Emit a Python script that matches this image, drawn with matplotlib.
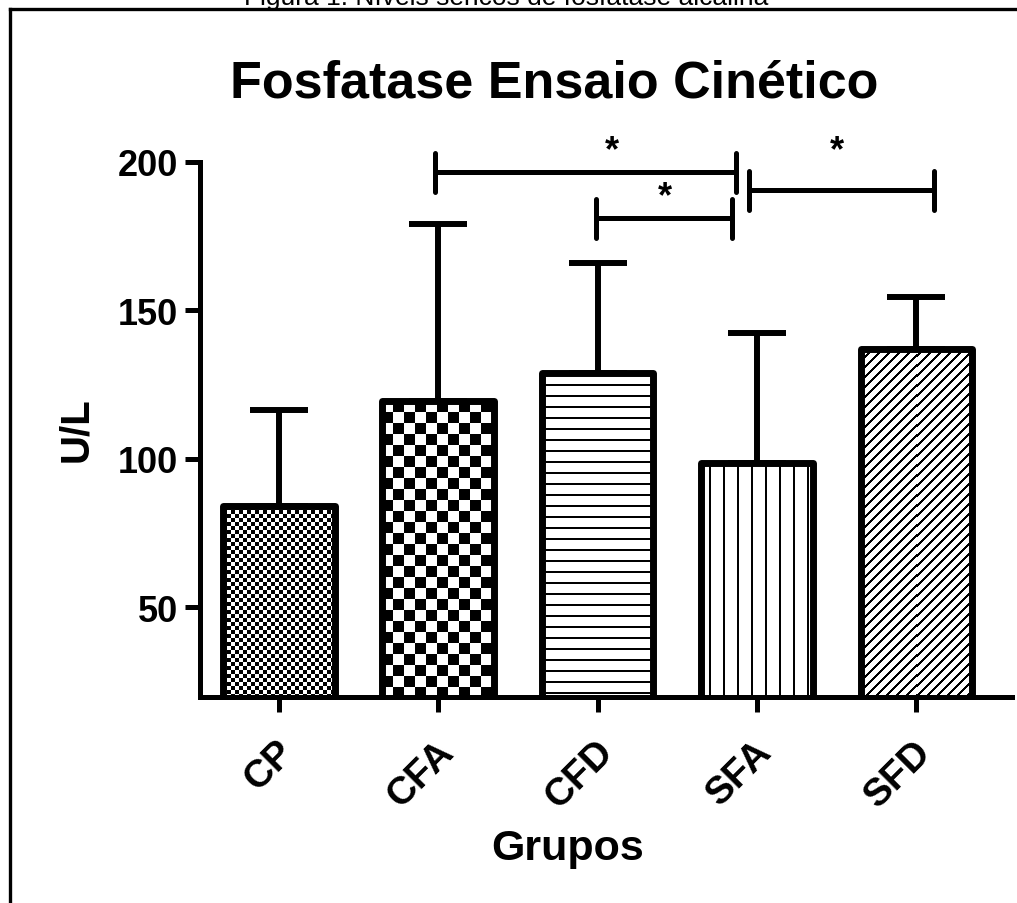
import numpy as np
import matplotlib
matplotlib.use("Agg")
import matplotlib.pyplot as plt
from matplotlib.lines import Line2D
from matplotlib.transforms import ScaledTranslation

# ---------------- data ----------------
groups = ["CP", "CFA", "CFD", "SFA", "SFD"]
means = [84.0, 119.5, 129.0, 98.5, 137.0]
err_upper = [32.5, 59.5, 37.0, 44.0, 17.5]
yticks = [50, 100, 150, 200]
# significance brackets: (x start, x end, y level)
brackets = [(0.98, 2.87, 196.5), (1.99, 2.84, 181.0), (2.95, 4.11, 190.5)]
# asterisk positions (x, baseline y)
stars = [(2.09, 200.5), (2.42, 185.0), (3.50, 200.5)]
patterns = ["checker_fine", "checker_coarse", "hlines", "vlines", "diag"]

title = "Fosfatase Ensaio Cinético"
caption = "Figura 1: Níveis séricos de fosfatase alcalina"
xlabel = "Grupos"
ylabel = "U/L"

plt.rcParams["font.family"] = ["Liberation Sans", "DejaVu Sans"]

W, H = 1017, 904
fig = plt.figure(figsize=(W / 100, H / 100), dpi=100)
fig.patch.set_facecolor("white")

ax_left, ax_right, ax_bottom, ax_top = 200, 1012, 697.5, 163
ax = fig.add_axes([ax_left / W, 1 - ax_bottom / H,
                   (ax_right - ax_left) / W, (ax_bottom - ax_top) / H])
XLIM = (-0.495, 4.6)
YLIM = (20, 200)
ax.set_xlim(*XLIM)
ax.set_ylim(*YLIM)

x = np.arange(len(groups))
bar_w = 0.70
lw_bar = 5.0

# error bars (upper only) drawn beneath the bars
ax.errorbar(x, means, yerr=[np.zeros(len(means)), err_upper], fmt="none",
            ecolor="black", elinewidth=4.3, capsize=21, capthick=4.3, zorder=1)

bars = ax.bar(x, means, width=bar_w, facecolor="none", edgecolor="black",
              linewidth=lw_bar, zorder=3)
for b in bars:
    b.set_joinstyle("round")


def pattern_array(kind, w, h):
    yy, xx = np.mgrid[0:h, 0:w]
    if kind == "checker_fine":
        s = 4
        return ((xx // s + yy // s) % 2).astype(float)
    if kind == "checker_coarse":
        s = 11
        return ((xx // s + yy // s) % 2).astype(float)
    if kind == "hlines":
        return (yy % 11 < 2).astype(float)
    if kind == "vlines":
        return ((xx + 6) % 14 < 2).astype(float)
    if kind == "diag":
        return ((xx + yy) % 10 < 3).astype(float)
    return np.zeros((h, w))


inv = ax.transData.inverted()
for b, kind, xi, m in zip(bars, patterns, x, means):
    x0, x1 = xi - bar_w / 2, xi + bar_w / 2
    p0 = np.round(ax.transData.transform((x0, YLIM[0])))
    p1 = np.round(ax.transData.transform((x1, m)))
    w = int(p1[0] - p0[0])
    h = int(p1[1] - p0[1])
    d0 = inv.transform(p0)
    d1 = inv.transform(p1)
    arr = pattern_array(kind, w, h)
    im = ax.imshow(arr, cmap="gray_r", vmin=0, vmax=1,
                   extent=(d0[0], d1[0], d0[1], d1[1]),
                   aspect="auto", interpolation="nearest", origin="upper", zorder=2)
    im.set_clip_path(b)

ax.set_xlim(*XLIM)
ax.set_ylim(*YLIM)

# axes styling
for s in ["top", "right"]:
    ax.spines[s].set_visible(False)
for s in ["left", "bottom"]:
    ax.spines[s].set_linewidth(3.6)
    ax.spines[s].set_capstyle("projecting")
ax.set_yticks(yticks)
ax.set_yticklabels([str(v) for v in yticks], fontsize=26, fontweight="bold")
ax.set_xticks(x)
ax.set_xticklabels(groups, fontsize=28, fontweight="bold", rotation=45,
                   ha="right", rotation_mode="anchor")
ax.tick_params(axis="both", direction="out", length=11, width=3.6, pad=5)
ax.tick_params(axis="x", pad=8)
shift = ScaledTranslation(-3 / 100, -10 / 100, fig.dpi_scale_trans)
for lab in ax.get_xticklabels():
    lab.set_transform(lab.get_transform() + shift)

# axis labels placed in figure pixels
fig.text(568 / W, 1 - 860 / H, xlabel, fontsize=31, fontweight="bold",
         ha="center", va="baseline")
fig.text(76 / W, 1 - 430 / H, ylabel, fontsize=29, fontweight="bold",
         ha="center", va="center", rotation=90)

# significance brackets
tick_half = 6.5
for xa, xb, yb in brackets:
    ax.plot([xa, xb], [yb, yb], color="black", lw=3.6, solid_capstyle="round",
            clip_on=False, zorder=4)
    for xe in (xa, xb):
        ax.plot([xe, xe], [yb - tick_half, yb + tick_half], color="black", lw=3.6,
                solid_capstyle="round", clip_on=False, zorder=4)
for sx, sy in stars:
    ax.text(sx, sy, "*", fontsize=26, fontweight="bold", ha="center",
            va="baseline", clip_on=False)

# title
fig.text(554.5 / W, 1 - 97 / H, title, fontsize=37.5, fontweight="bold",
         ha="center", va="baseline")

# caption (cut off at the top of the image, as in the source)
fig.text(506 / W, 1 - 5 / H, caption, fontsize=19, ha="center", va="baseline")

# frame around the figure (right/bottom sides fall outside the image)
fig.add_artist(Line2D([10 / W, 1.02], [1 - 9.5 / H, 1 - 9.5 / H], color="black",
                      lw=2.4, transform=fig.transFigure))
fig.add_artist(Line2D([10 / W, 10 / W], [-0.02, 1 - 9.5 / H], color="black",
                      lw=2.4, transform=fig.transFigure))

fig.savefig("out.png", dpi=100)
